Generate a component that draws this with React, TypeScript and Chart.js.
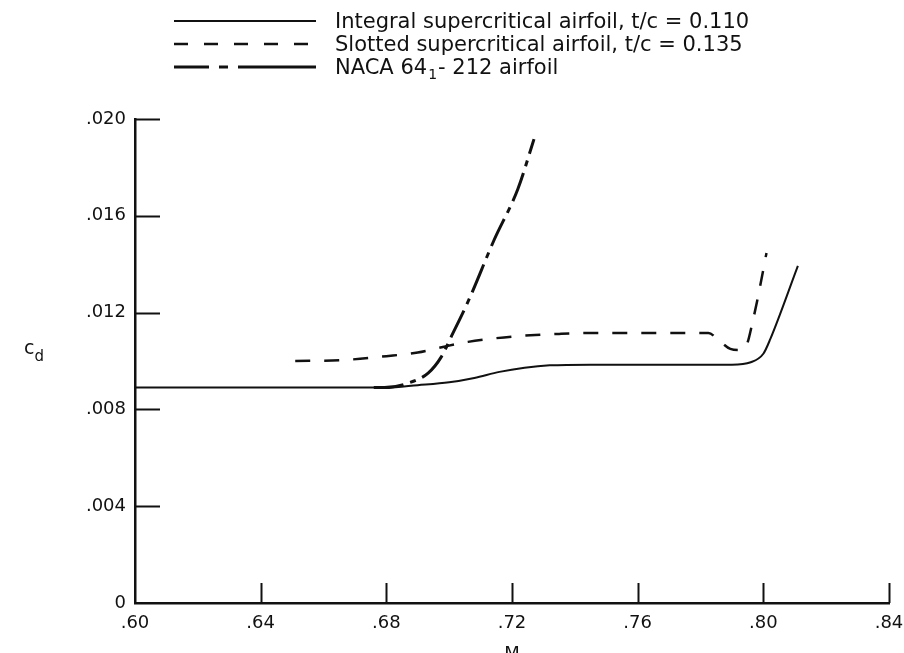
import React, { useEffect, useRef } from "react";
import { Chart, registerables } from "chart.js";

Chart.register(...registerables);

// ---- data (Mach number, section drag coefficient) ----
const integralM = [0.600, 0.640, 0.680, 0.690, 0.700, 0.708, 0.716, 0.724, 0.732, 0.745, 0.770, 0.790, 0.796, 0.800, 0.8022, 0.811];
const integralCd = [0.0089, 0.0089, 0.0089, 0.00900, 0.00912, 0.00930, 0.00955, 0.00972, 0.00982, 0.00985, 0.00985, 0.00985, 0.00995, 0.01030, 0.01090, 0.01393];

const slottedM = [0.651, 0.665, 0.680, 0.690, 0.698, 0.706, 0.714, 0.722, 0.735, 0.746, 0.7825, 0.7857, 0.7895, 0.7927, 0.7949, 0.7965, 0.7981, 0.8010];
const slottedCd = [0.0100, 0.01003, 0.0102, 0.01035, 0.01058, 0.01079, 0.01093, 0.01103, 0.01112, 0.01116, 0.01116, 0.01087, 0.01050, 0.01045, 0.01074, 0.01157, 0.01252, 0.01446];

const nacaM = [0.676, 0.6794, 0.6870, 0.6933, 0.6975, 0.7006, 0.7060, 0.7143, 0.7219, 0.7270];
const nacaCd = [0.0089, 0.0089, 0.00909, 0.00950, 0.01017, 0.01099, 0.01245, 0.01500, 0.01712, 0.01917];

const xTickValues = [0.60, 0.64, 0.68, 0.72, 0.76, 0.80, 0.84];
const xTickLabels = [".60", ".64", ".68", ".72", ".76", ".80", ".84"];
const yTickValues = [0, 0.004, 0.008, 0.012, 0.016, 0.020];
const yTickLabels = ["0", ".004", ".008", ".012", ".016", ".020"];

const seriesLabels = [
  "Integral supercritical airfoil, t/c = 0.110",
  "Slotted supercritical airfoil, t/c = 0.135",
  "NACA 64\u2081- 212 airfoil",
];
const xTitle = "M";
const yTitleMain = "c";
const yTitleSub = "d";

const FONT = "'DejaVu Sans', 'Liberation Sans', sans-serif";
const INK = "#111";

const legendDashes = [[], [14, 16], [35, 10, 9, 10, 78]];

const overlayPlugin = {
  id: "overlay",
  afterDraw(chart: any) {
    const ctx = chart.ctx;
    const xs = chart.scales.x;
    const ys = chart.scales.y;
    const area = chart.chartArea;
    ctx.save();
    // inner tick marks
    ctx.strokeStyle = INK;
    ctx.lineWidth = 2;
    ctx.setLineDash([]);
    yTickValues.forEach((v) => {
      if (v === 0) return;
      const py = Math.round(ys.getPixelForValue(v)) + 0.5;
      ctx.beginPath();
      ctx.moveTo(area.left, py);
      ctx.lineTo(area.left + 25, py);
      ctx.stroke();
    });
    xTickValues.forEach((v, i) => {
      if (i === 0) return;
      const px = Math.round(xs.getPixelForValue(v)) + 0.5;
      ctx.beginPath();
      ctx.moveTo(px, area.bottom);
      ctx.lineTo(px, area.bottom - 20);
      ctx.stroke();
    });

    // legend
    chart.data.datasets.forEach((ds: any, i: number) => {
      const y = 21 + i * 23;
      ctx.beginPath();
      ctx.setLineDash(legendDashes[i]);
      ctx.lineWidth = ds.borderWidth;
      ctx.strokeStyle = ds.borderColor;
      ctx.moveTo(174, y);
      ctx.lineTo(316, y);
      ctx.stroke();
      ctx.setLineDash([]);
      ctx.fillStyle = INK;
      ctx.textBaseline = "alphabetic";
      ctx.textAlign = "left";
      const label: string = seriesLabels[i];
      const baseline = y + 7;
      const subIdx = label.indexOf("\u2081");
      ctx.font = `21px ${FONT}`;
      if (subIdx >= 0) {
        const a = label.slice(0, subIdx);
        const b = label.slice(subIdx + 1);
        let x = 335;
        ctx.fillText(a, x, baseline);
        x += ctx.measureText(a).width + 1;
        ctx.font = `14px ${FONT}`;
        ctx.fillText("1", x, baseline + 5);
        x += ctx.measureText("1").width + 1;
        ctx.font = `21px ${FONT}`;
        ctx.fillText(b, x, baseline);
      } else {
        ctx.fillText(label, 335, baseline);
      }
    });

    // axis titles
    ctx.fillStyle = INK;
    ctx.textAlign = "left";
    ctx.textBaseline = "alphabetic";
    ctx.font = `19px ${FONT}`;
    ctx.fillText(yTitleMain, 24, 354);
    const cw = ctx.measureText(yTitleMain).width;
    ctx.font = `15px ${FONT}`;
    ctx.fillText(yTitleSub, 24 + cw, 361);
    ctx.font = `18px ${FONT}`;
    ctx.textAlign = "center";
    ctx.fillText(xTitle, (area.left + area.right) / 2, 659);
    ctx.restore();
  },
};

export default function App() {
  const ref = useRef<HTMLCanvasElement | null>(null);
  useEffect(() => {
    if (!ref.current) return;
    const toPts = (m: number[], c: number[]) => m.map((x, i) => ({ x, y: c[i] }));
    const chart = new Chart(ref.current, {
      type: "line",
      data: {
        datasets: [
          {
            label: seriesLabels[0],
            data: toPts(integralM, integralCd),
            borderColor: INK,
            borderWidth: 2,
            pointRadius: 0,
            cubicInterpolationMode: "monotone",
            fill: false,
          },
          {
            label: seriesLabels[1],
            data: toPts(slottedM, slottedCd),
            borderColor: INK,
            borderWidth: 2.5,
            borderDash: [15, 14],
            pointRadius: 0,
            cubicInterpolationMode: "monotone",
            fill: false,
          },
          {
            label: seriesLabels[2],
            data: toPts(nacaM, nacaCd),
            borderColor: INK,
            borderWidth: 3,
            borderDash: [30, 7, 6, 7],
            pointRadius: 0,
            cubicInterpolationMode: "monotone",
            fill: false,
          },
        ],
      },
      options: {
        animation: false,
        responsive: false,
        maintainAspectRatio: false,
        layout: { padding: { left: 0, top: 119, right: 15, bottom: 0 } },
        plugins: { legend: { display: false }, tooltip: { enabled: false }, title: { display: false } },
        scales: {
          x: {
            type: "linear",
            min: 0.6,
            max: 0.84,
            afterBuildTicks: (s: any) => {
              s.ticks = xTickValues.map((v) => ({ value: v }));
            },
            afterFit: (s: any) => {
              s.height = 50;
              s.paddingLeft = 0;
              s.paddingRight = 0;
            },
            ticks: {
              callback: (_v: any, i: number) => xTickLabels[i],
              font: { family: FONT, size: 18 },
              color: INK,
              padding: 10,
              maxRotation: 0,
              autoSkip: false,
            },
            grid: { display: true, drawOnChartArea: false, drawTicks: false, color: INK },
            border: { display: true, color: INK, width: 2.5 },
          },
          y: {
            type: "linear",
            min: 0,
            max: 0.02,
            afterBuildTicks: (s: any) => {
              s.ticks = yTickValues.map((v) => ({ value: v }));
            },
            afterFit: (s: any) => {
              s.width = 135;
              s.paddingTop = 0;
              s.paddingBottom = 0;
            },
            ticks: {
              callback: (_v: any, i: number) => yTickLabels[i],
              font: { family: FONT, size: 18 },
              color: INK,
              padding: 9,
              autoSkip: false,
            },
            grid: { display: true, drawOnChartArea: false, drawTicks: false, color: INK },
            border: { display: true, color: INK, width: 2.5 },
          },
        },
      },
      plugins: [overlayPlugin],
    } as any);
    return () => chart.destroy();
  }, []);
  return (
    <div style={{ position: "fixed", left: 0, top: 0, width: 904, height: 653, background: "#fff" }}>
      <canvas ref={ref} width={904} height={653} style={{ display: "block" }} />
    </div>
  );
}
